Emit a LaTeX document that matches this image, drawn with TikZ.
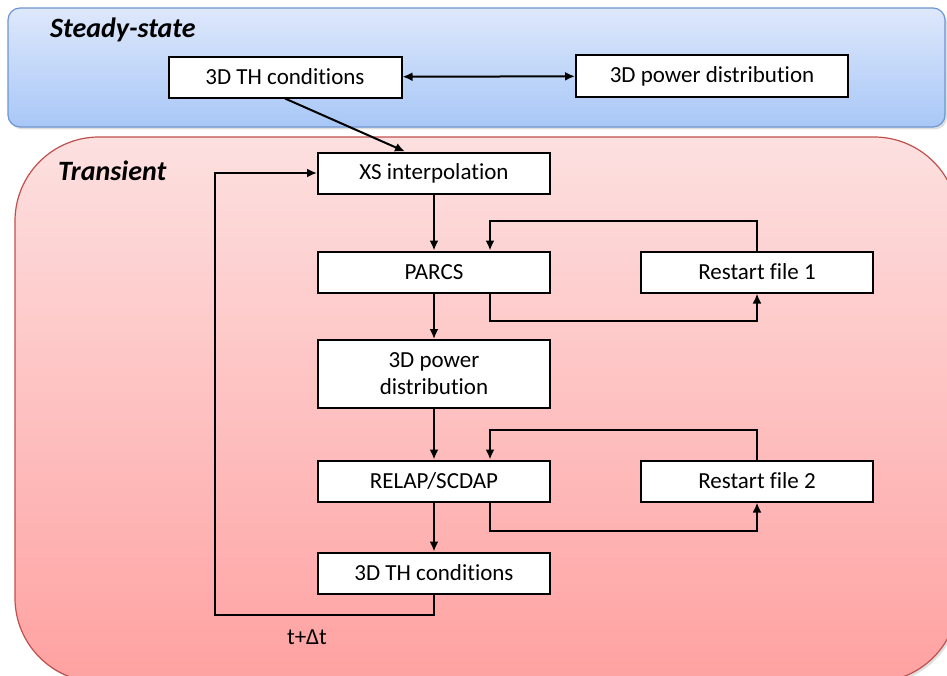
\documentclass[tikz,border=0pt]{standalone}
\usepackage{fontspec}
\setmainfont[Ligatures=NoCommon]{Carlito}
\usetikzlibrary{positioning, arrows.meta, shadows}
\definecolor{steadytop}{HTML}{DEE8FB}
\definecolor{steadybot}{HTML}{A8C7F7}
\definecolor{steadyline}{HTML}{6E96D0}
\definecolor{transtop}{HTML}{FDE0E0}
\definecolor{transbot}{HTML}{FFA1A1}
\definecolor{transline}{HTML}{C0504D}
\tikzset{
block/.style={draw=black, line width=1pt, fill=white, minimum width=116pt, minimum height=20.5pt, inner sep=2pt, align=center}, % every box of the chain
flow/.style={->, line width=1pt}, % connectors between boxes
panel/.style={line width=0.6pt, drop shadow={shadow xshift=1pt, shadow yshift=-1.2pt, opacity=0.25}}, % background areas
title/.style={anchor=west, font=\fontsize{14}{16}\selectfont\bfseries\itshape},
}

\begin{document}
\begin{tikzpicture}[x=0.5pt, y=-0.5pt, >={Latex[length=5pt,width=4.5pt]}, font=\fontsize{11.5}{13.5}\selectfont]
    \useasboundingbox (0,0) rectangle (947,675);
    \clip (0,0) rectangle (947,675);

    % the two areas
    \draw[panel, rounded corners=6pt, draw=steadyline, top color=steadytop, bottom color=steadybot] (8,8) rectangle (945,127);
    \draw[panel, rounded corners=42pt, draw=transline, top color=transtop, bottom color=transbot] (15,137) rectangle (958,682);
    \node[title] (steadylabel) at (43,30) {Steady-state};
    \node[title] (translabel) at (51,171) {Transient};

    % steady-state boxes
    \node[block, minimum width=116.5pt] (ssth) at (285,77) {3D TH conditions};
    \node[block, minimum width=136pt, minimum height=21pt] (sspower) at (712,76) {3D power distribution};

    % transient chain
    \node[block] (xs) at (434,173) {XS interpolation};
    \node[block] (parcs) at (434,272) {PARCS};
    \node[block, right=44.5pt of parcs] (restart1) {Restart file 1};
    \node[block, minimum height=34pt] (power) at (434,374) {3D power\\distribution};
    \node[block] (relap) at (434,481) {RELAP/SCDAP};
    \node[block, right=44.5pt of relap] (restart2) {Restart file 2};
    \node[block] (th) at (434,573) {3D TH conditions};
    \coordinate (back) at (215,615);
    \node (dt) at (307,637) {t+Δt};

    \draw[flow, <->] (ssth) -- (sspower);
    \draw[flow] (ssth.south) -- ([xshift=-14.5pt]xs.north);
    \draw[flow] (xs) -- (parcs);
    \draw[flow] (parcs) -- (power);
    \draw[flow] (power) -- (relap);
    \draw[flow] (relap) -- (th);
    \draw[flow] (restart1.north) -- ++(0,-30) -| ([xshift=28pt]parcs.north);
    \draw[flow] ([xshift=28pt]parcs.south) -- ++(0,27) -| (restart1.south);
    \draw[flow] (restart2.north) -- ++(0,-30) -| ([xshift=28pt]relap.north);
    \draw[flow] ([xshift=28pt]relap.south) -- ++(0,28) -| (restart2.south);
    \draw[flow] (th.south) |- (back) |- (xs.west);
\end{tikzpicture}
\end{document}
